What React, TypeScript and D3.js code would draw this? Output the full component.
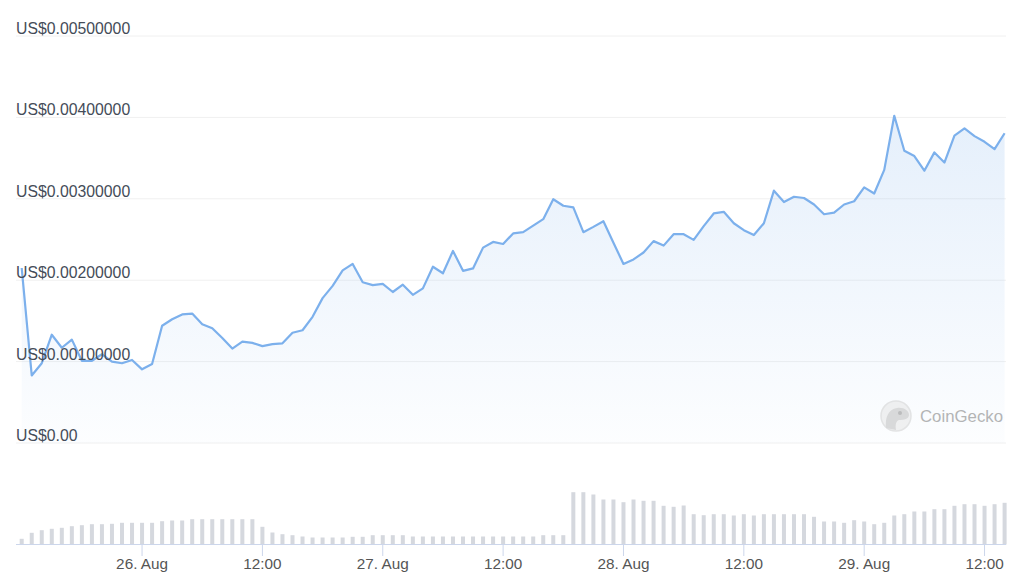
import { useMemo } from "react";
import * as d3 from "d3";

// hourly samples, first point 25 Aug 12:00 (UTC)
const startTime = Date.UTC(2023, 7, 25, 12);

const prices = [
  0.00215, 0.00083, 0.00098, 0.00133, 0.00117, 0.00127, 0.00101, 0.00101, 0.00109, 0.001,
  0.00098, 0.00102, 0.000905, 0.00097, 0.00144, 0.00152, 0.00158, 0.00159, 0.00146, 0.00141,
  0.00129, 0.00116, 0.001245, 0.00123, 0.00119, 0.001215, 0.001225, 0.001355, 0.001385, 0.00155,
  0.00178, 0.00193, 0.00212, 0.0022, 0.001975, 0.00194, 0.001955, 0.001855, 0.001945, 0.00182,
  0.0019, 0.002165, 0.002085, 0.00236, 0.002115, 0.002145, 0.0024, 0.00247, 0.002445, 0.002575,
  0.00259, 0.00267, 0.00275, 0.002995, 0.002915, 0.002895, 0.00259, 0.002655, 0.002725, 0.00246,
  0.0022, 0.002255, 0.00234, 0.00248, 0.002425, 0.002565, 0.002565, 0.002495, 0.002665, 0.00282,
  0.00284, 0.0027, 0.002615, 0.002555, 0.0027, 0.0031, 0.00296, 0.003025, 0.00301, 0.00293,
  0.00281, 0.00283, 0.00293, 0.00297, 0.00314, 0.003065, 0.003355, 0.00402, 0.00359, 0.003525,
  0.003345, 0.00357, 0.003445, 0.003775, 0.003865, 0.00377, 0.0037, 0.00361, 0.003805,
];

// relative trading volume (no scale shown on the chart)
const volumes = [
  5.7, 11.7, 14.3, 15.7, 16.7, 18.3, 19.3, 20.3, 20.3, 20.7,
  21.7, 21.7, 21.7, 21.7, 23.3, 24, 24, 25.3, 25.3, 25.3,
  25.3, 25.3, 25.3, 25.3, 17.7, 12, 10.3, 9.3, 8, 7,
  7, 7, 7, 7.7, 7.7, 9.3, 9.3, 9.3, 9.3, 8,
  8, 8, 8, 8, 8, 8, 8, 8, 8, 8,
  8, 8, 9.3, 9.3, 9.3, 52.3, 52.3, 50, 45, 45,
  42.3, 45, 43.7, 43.7, 38.7, 37.7, 39, 30.3, 29.3, 30.3,
  30.3, 29, 30.3, 29, 30.3, 30.3, 30.3, 30.3, 30.3, 27.7,
  23, 23, 21.7, 24.3, 23, 20.3, 21.7, 29, 30.3, 33,
  33, 35.3, 35.3, 38.7, 40.3, 40.3, 38.7, 40.3, 41.7,
];

const yTicks = [0, 0.001, 0.002, 0.003, 0.004, 0.005];
const yTickLabels = ["US$0.00", "US$0.00100000", "US$0.00200000", "US$0.00300000", "US$0.00400000", "US$0.00500000"];

const xTicks = [
  Date.UTC(2023, 7, 26, 0), Date.UTC(2023, 7, 26, 12),
  Date.UTC(2023, 7, 27, 0), Date.UTC(2023, 7, 27, 12),
  Date.UTC(2023, 7, 28, 0), Date.UTC(2023, 7, 28, 12),
  Date.UTC(2023, 7, 29, 0), Date.UTC(2023, 7, 29, 12),
];
const xTickLabels = ["26. Aug", "12:00", "27. Aug", "12:00", "28. Aug", "12:00", "29. Aug", "12:00"];

const W = 1024;
const H = 576;
const font = "'Helvetica Neue', Helvetica, Arial, 'Liberation Sans', sans-serif";

export default function App() {
  const times = useMemo(() => prices.map((_, i) => d3.utcHour.offset(new Date(startTime), i)), []);

  const x = d3.scaleUtc()
    .domain([times[0], times[times.length - 1]])
    .range([21.7, 1004.6]);
  const y = d3.scaleLinear().domain([0, 0.005]).range([443, 36]);
  const vol = d3.scaleLinear().domain([0, d3.max(volumes) as number]).range([544.5, 492.2]);

  const pts = prices.map((p, i) => [times[i], p] as [Date, number]);
  const line = d3.line<[Date, number]>().x((d) => x(d[0])).y((d) => y(d[1]));
  const area = d3.area<[Date, number]>().x((d) => x(d[0])).y0(y(0)).y1((d) => y(d[1]));

  return (
    <div style={{ position: "fixed", left: 0, top: 0, width: W, height: H, background: "#fff" }}>
      <svg width={W} height={H} style={{ display: "block" }} fontFamily={font}>
        <defs>
          <linearGradient id="areaFill" x1="0" y1="0" x2="0" y2="1">
            <stop offset="0%" stopColor="#7cb0ec" stopOpacity={0.2} />
            <stop offset="100%" stopColor="#7cb0ec" stopOpacity={0.02} />
          </linearGradient>
        </defs>

        {/* grid */}
        {yTicks.map((t) => (
          <line key={t} x1={16} x2={1006} y1={y(t)} y2={y(t)} stroke="#f0f0f0" strokeWidth={1} />
        ))}

        {/* price area + line */}
        <path d={area(pts) ?? ""} fill="url(#areaFill)" />
        <path d={line(pts) ?? ""} fill="none" stroke="#7cb0ec" strokeWidth={2.2} strokeLinejoin="round" />

        {/* y labels drawn over the line, as in the original */}
        {yTicks.map((t, i) => (
          <text key={t} x={16} y={y(t) - 2} fontSize={15.8} fill="#444c58">
            {yTickLabels[i]}
          </text>
        ))}

        {/* volume bars */}
        {volumes.map((v, i) => (
          <rect
            key={i}
            x={x(times[i]) - 2}
            y={vol(v)}
            width={4}
            height={vol(0) - vol(v)}
            fill="#d5d8de"
          />
        ))}

        {/* x axis */}
        <line x1={16} x2={1006} y1={544.5} y2={544.5} stroke="#ccd6eb" />
        {xTicks.map((t, i) => (
          <g key={t} transform={`translate(${x(new Date(t))},0)`}>
            <line y1={544.5} y2={556} stroke="#ccd6eb" />
            <text y={569} textAnchor="middle" fontSize={15.3} fill="#555">
              {xTickLabels[i]}
            </text>
          </g>
        ))}

        {/* watermark */}
        <g opacity={0.55}>
          <circle cx={896} cy={416} r={15} fill="#e6e6e6" stroke="#cfcfcf" strokeWidth={1.5} />
          <path d="M886,428 C885,418 888,409 897,408 C904,407 909,411 909,415 C909,419 904,420 899,420 C896,421 895,425 896,430 Z" fill="#bdbdbd" />
          <circle cx={900} cy={413} r={2} fill="#888" />
          <text x={920} y={422} fontSize={16.8} fill="#7a7a7a">CoinGecko</text>
        </g>
      </svg>
    </div>
  );
}
